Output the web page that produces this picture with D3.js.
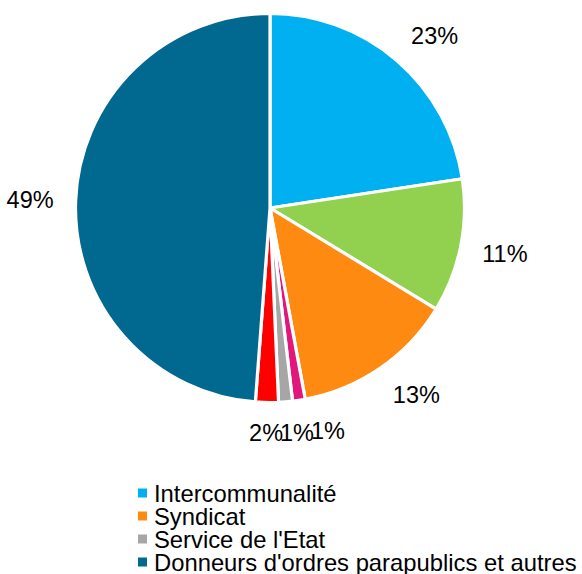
<!DOCTYPE html>
<html>
<head>
<meta charset="utf-8">
<script src="https://cdn.jsdelivr.net/npm/d3@7"></script>
<style>
  html, body { margin: 0; padding: 0; background: #fff; }
  svg { display: block; }
  text { font-family: "Liberation Sans", Arial, sans-serif; fill: #000; }
</style>
</head>
<body>
<svg id="chart" width="582" height="574"></svg>
<script>
// Slices in clockwise order from 12 o'clock (share of total, %)
const categories = ["Intercommunalité", null, "Syndicat", null, "Service de l'Etat", null, "Donneurs d'ordres parapublics et autres"];
const values = [22.6, 11.1, 13.4, 1.05, 1.15, 1.9, 48.8];
const colors = ["#00B0F0", "#92D050", "#FF8A12", "#E2177A", "#A6A6A6", "#FF0000", "#01688F"];
// Visible legend entries (indices into categories)
const legendItems = [0, 2, 4, 6];

const svg = d3.select("#chart");
const cx = 270, cy = 208, r = 194.5;
const fontSize = 23.5;
const legendFontSize = 23.8;

const data = values.map((v, i) => ({ name: categories[i], value: v, color: colors[i] }));
const total = d3.sum(values);

const pie = d3.pie().value(d => d.value).sort(null);
const arcs = pie(data);
const arc = d3.arc().innerRadius(0).outerRadius(r);

const g = svg.append("g").attr("transform", `translate(${cx},${cy})`);
g.selectAll("path.slice")
  .data(arcs)
  .join("path")
  .attr("class", "slice")
  .attr("d", arc)
  .attr("fill", d => d.data.color)
  .attr("stroke", "#fff")
  .attr("stroke-width", 3.2)
  .attr("stroke-linejoin", "round");

// Labels: outside end, box nearest point placed at r + gap
const fmt = d3.format(".0%");
const gap = 22;
const labels = g.selectAll("text.lbl")
  .data(arcs)
  .join("text")
  .attr("class", "lbl")
  .attr("font-size", fontSize)
  .attr("text-anchor", "middle")
  .attr("dy", "0.36em")
  .text(d => fmt(d.data.value / total));

const boxes = [];
labels.each(function(d) {
  const w = this.getComputedTextLength();
  const h = fontSize * 0.72;
  const th = (d.startAngle + d.endAngle) / 2;
  const s = Math.sin(th), c = Math.cos(th);
  const px = (r + gap) * s, py = -(r + gap) * c;
  const kx = Math.max(-1, Math.min(1, 2 * s));
  const ky = Math.max(-1, Math.min(1, 2 * c));
  boxes.push({ el: this, x: px + kx * w / 2, y: py - ky * h / 2, w: w });
});
// Simple overlap avoidance for the labels along the bottom: push right
const bottom = boxes.filter(b => b.y > r * 0.8).sort((a, b) => a.x - b.x);
for (let i = 1; i < bottom.length; i++) {
  const prev = bottom[i - 1], cur = bottom[i];
  const minLeft = prev.x + prev.w / 2 - 3;
  if (cur.x - cur.w / 2 < minLeft) cur.x = minLeft + cur.w / 2;
}
boxes.forEach(b => d3.select(b.el).attr("x", b.x).attr("y", b.y));

// Legend
const legY0 = 493, legStep = 23;
const leg = svg.append("g");
const rows = leg.selectAll("g")
  .data(legendItems.map(i => data[i]))
  .join("g")
  .attr("transform", (d, i) => `translate(0,${legY0 + i * legStep})`);
rows.append("rect")
  .attr("x", 138).attr("y", -4.5)
  .attr("width", 9).attr("height", 9)
  .attr("fill", d => d.color);
rows.append("text")
  .attr("x", 154).attr("dy", "0.36em")
  .attr("font-size", legendFontSize)
  .text(d => d.name);
</script>
</body>
</html>
